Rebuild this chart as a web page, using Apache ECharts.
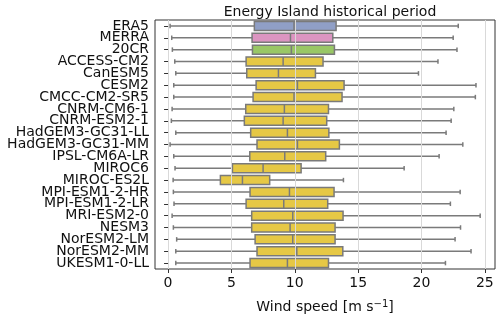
<!DOCTYPE html>
<html><head><meta charset="utf-8">
<script src="https://cdn.jsdelivr.net/npm/echarts@6/dist/echarts.min.js"></script>
<style>html,body{margin:0;padding:0;background:#fff}#c{width:500px;height:319px}</style>
</head><body><div id="c"></div>
<script>
const categories = ["ERA5","MERRA","20CR","ACCESS-CM2","CanESM5","CESM2","CMCC-CM2-SR5","CNRM-CM6-1","CNRM-ESM2-1","HadGEM3-GC31-LL","HadGEM3-GC31-MM","IPSL-CM6A-LR","MIROC6","MIROC-ES2L","MPI-ESM1-2-HR","MPI-ESM1-2-LR","MRI-ESM2-0","NESM3","NorESM2-LM","NorESM2-MM","UKESM1-0-LL"];
const whiskerLow = [0.16,0.29,0.34,0.53,0.61,0.45,0.45,0.32,0.26,0.61,0.16,0.45,0.55,0.40,0.42,0.47,0.32,0.42,0.68,0.61,0.61];
const q1 = [6.81,6.63,6.66,6.16,6.21,6.95,6.71,6.13,6.02,6.52,7.02,6.45,5.08,4.13,6.47,6.16,6.60,6.60,6.87,7.02,6.47];
const median = [9.94,9.66,9.73,9.08,8.71,10.21,9.94,9.18,9.08,9.42,10.21,9.21,7.50,5.87,9.58,9.13,9.84,9.63,9.84,10.16,9.42];
const q3 = [13.26,13.00,13.13,12.23,11.63,13.89,13.73,12.66,12.52,12.69,13.52,12.44,10.50,8.02,13.10,12.60,13.81,13.18,13.18,13.79,12.66];
const whiskerHigh = [22.9,22.5,22.8,21.3,19.76,24.3,24.25,22.55,22.34,21.94,23.26,21.39,18.63,13.84,23.05,22.28,24.63,23.08,22.65,23.91,21.89];
const xTicks = [0,5,10,15,20,25];

const palette = ['#909fc6','#dc95c1','#99c766'];
const modelColor = '#e6c845';
const lineColor = '#7a7a7a';

const data = categories.map((c,i)=>[i, whiskerLow[i], q1[i], median[i], q3[i], whiskerHigh[i]]);

const chart = echarts.init(document.getElementById('c'), null, {renderer:'canvas'});
const font = 'DejaVu Sans';
chart.setOption({
  animation:false,
  title:{text:'Energy Island historical period', left:325, top:0, textAlign:'center',
    textStyle:{fontFamily:font, fontSize:14, fontWeight:'normal', color:'#111'}},
  grid:{left:155, right:5, top:20, bottom:45, show:true, borderColor:'#333', borderWidth:1, backgroundColor:'transparent', z:3},
  xAxis:{type:'value', min:-1.03, max:25.8, splitNumber:5, z:3,
    axisLine:{show:false},
    axisTick:{show:true, length:4, lineStyle:{color:'#333'}, customValues: xTicks},
    axisLabel:{fontFamily:font, fontSize:14, color:'#111', margin:7, customValues: xTicks},
    splitLine:{show:true, lineStyle:{color:'#d9d9d9', width:1}},
    name:'Wind speed [m s{sup|−1}]', nameLocation:'middle', nameGap:30,
    nameTextStyle:{fontFamily:font, fontSize:14, color:'#111',
      rich:{sup:{fontFamily:font, fontSize:10, verticalAlign:'top', padding:[0,0,6,0], color:'#111'}}}
  },
  yAxis:{type:'category', data:categories, inverse:true, z:3,
    axisLine:{show:false},
    axisTick:{show:true, length:4, alignWithLabel:true, lineStyle:{color:'#333'}},
    axisLabel:{fontFamily:font, fontSize:14, color:'#111', margin:6, interval:0},
    splitLine:{show:false}
  },
  series:[{
    type:'custom',
    data:data,
    encode:{x:[1,2,3,4,5], y:0},
    renderItem:function(params, api){
      const i = api.value(0);
      const band = api.size([0,1])[1];
      const bh = band*0.76, ch = band*0.38;
      const pL = api.coord([api.value(1), i]);
      const p1 = api.coord([api.value(2), i]);
      const pm = api.coord([api.value(3), i]);
      const p3 = api.coord([api.value(4), i]);
      const pH = api.coord([api.value(5), i]);
      const y = pm[1];
      const fill = i < palette.length ? palette[i] : modelColor;
      const ls = {stroke:lineColor, lineWidth:1.5};
      return {type:'group', children:[
        {type:'line', shape:{x1:pL[0], y1:y, x2:p1[0], y2:y}, style:ls},
        {type:'line', shape:{x1:p3[0], y1:y, x2:pH[0], y2:y}, style:ls},
        {type:'line', shape:{x1:pL[0], y1:y-ch/2, x2:pL[0], y2:y+ch/2}, style:ls},
        {type:'line', shape:{x1:pH[0], y1:y-ch/2, x2:pH[0], y2:y+ch/2}, style:ls},
        {type:'rect', shape:{x:p1[0], y:y-bh/2, width:p3[0]-p1[0], height:bh}, style:{fill:fill, stroke:lineColor, lineWidth:1.5}},
        {type:'line', shape:{x1:pm[0], y1:y-bh/2, x2:pm[0], y2:y+bh/2}, style:ls}
      ]};
    }
  }]
});
</script></body></html>
